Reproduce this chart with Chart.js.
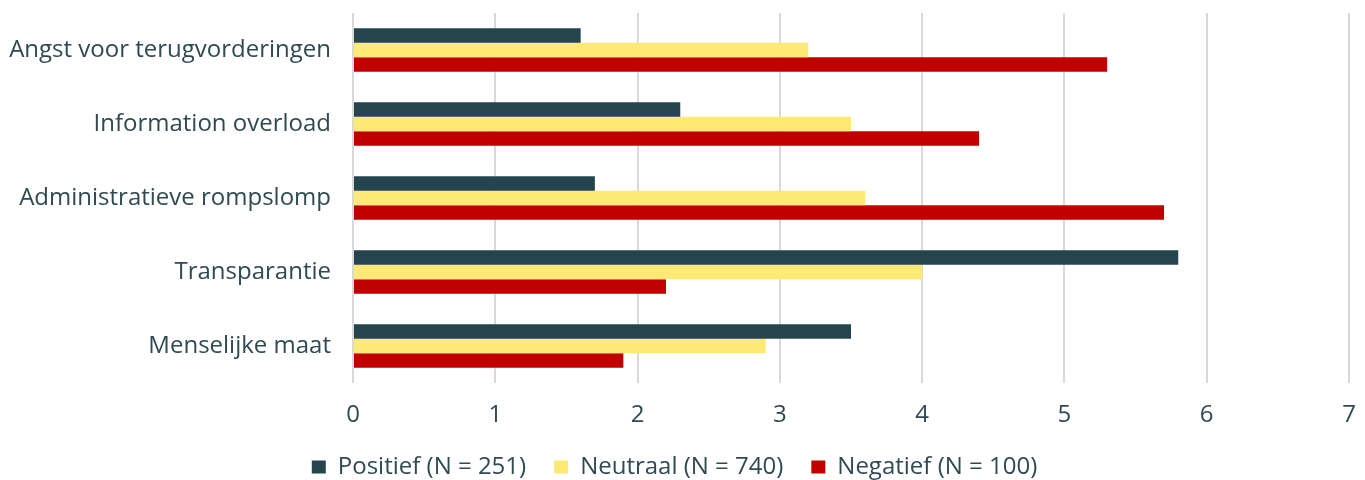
<!DOCTYPE html>
<html>
<head>
<meta charset="utf-8">
<script src="https://cdn.jsdelivr.net/npm/chart.js@4"></script>
<style>
  html, body { margin: 0; padding: 0; background: #fff; }
  #wrap { width: 1365px; height: 480px; }
</style>
</head>
<body>
<div id="wrap"><canvas id="chart"></canvas></div>
<script>
const categories = ["Angst voor terugvorderingen", "Information overload", "Administratieve rompslomp", "Transparantie", "Menselijke maat"];
const positief = [1.6, 2.3, 1.7, 5.8, 3.5];
const neutraal = [3.2, 3.5, 3.6, 4.0, 2.9];
const negatief = [5.3, 4.4, 5.7, 2.2, 1.9];
const seriesLabels = ["Positief (N = 251)", "Neutraal (N = 740)", "Negatief (N = 100)"];

const textColor = "#2f4a52";
Chart.defaults.font.family = "'Open Sans', Lato, sans-serif";
Chart.defaults.font.size = 24;
Chart.defaults.color = textColor;

new Chart(document.getElementById("chart"), {
    type: "bar",
    data: {
        labels: categories,
        datasets: [
            { label: seriesLabels[0], data: positief, backgroundColor: "#25444e" },
            { label: seriesLabels[1], data: neutraal, backgroundColor: "#fdea75" },
            { label: seriesLabels[2], data: negatief, backgroundColor: "#c00000" }
        ]
    },
    options: {
        indexAxis: "y",
        responsive: true,
        maintainAspectRatio: false,
        animation: false,
        datasets: { bar: { categoryPercentage: 0.585, barPercentage: 1.0 } },
        layout: { padding: { top: 13, right: 16, left: 0, bottom: 0 } },
        scales: {
            x: {
                min: 0, max: 7,
                ticks: { stepSize: 1, padding: 18, color: textColor },
                grid: { color: "#d9d9d9", lineWidth: 2, drawTicks: false },
                border: { display: false },
                afterFit: (s) => { s.height = 44; s.paddingLeft = 0; s.paddingRight = 0; }
            },
            y: {
                ticks: { padding: 14, color: textColor },
                grid: { display: false },
                border: { display: false },
                afterFit: (s) => { s.width = 353; s.paddingTop = 0; s.paddingBottom = 0; }
            }
        },
        plugins: {
            legend: {
                position: "bottom",
                maxHeight: 53,
                labels: { boxWidth: 14, boxHeight: 13, padding: 28, color: textColor }
            },
            tooltip: { enabled: false }
        }
    }
});
</script>
</body>
</html>
